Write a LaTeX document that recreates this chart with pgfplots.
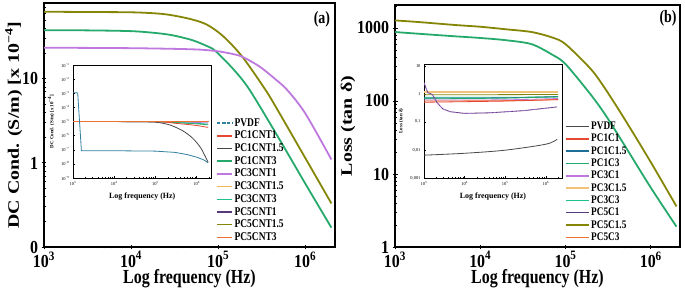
\documentclass[border=0pt]{standalone}
\usepackage{fontspec}
\setmainfont{Liberation Serif}
\usepackage{graphicx}
\usepackage{pgfplots}
\pgfplotsset{compat=1.18}

\newcommand\VS[1]{\scalebox{1}[1.25]{#1}}
\newcommand\VT[1]{\scalebox{1}[1.15]{#1}}
\newcommand\HS[1]{\scalebox{1.25}[1]{#1}}
\newcommand\MainTick{\fontsize{16}{18}\selectfont\bfseries}
\newcommand\InTick{\fontsize{4.5}{5}\selectfont}

\definecolor{colOlive}{RGB}{134,134,6}
\definecolor{colGreen}{RGB}{38,170,108}
\definecolor{colViolet}{RGB}{190,120,222}
\definecolor{colTeal}{RGB}{50,128,160}
\definecolor{colRed}{RGB}{232,72,50}
\definecolor{colGray}{RGB}{72,72,76}
\definecolor{colYel}{RGB}{240,182,84}
\definecolor{colTG}{RGB}{30,192,142}
\definecolor{colDP}{RGB}{88,58,122}
\definecolor{colOr}{RGB}{240,112,50}
\definecolor{colBlue}{RGB}{30,110,152}
\definecolor{colLOr}{RGB}{242,194,120}

\begin{document}
\begin{tikzpicture}
\useasboundingbox (0,0) rectangle (685bp,293bp);

% ================= Panel (a) main =================
\begin{loglogaxis}[at={(44bp,46bp)}, anchor=south west, scale only axis,
  width=291bp, height=244bp, xmin=1e3, xmax=2.2e6, ymin=0.1, ymax=80,
  axis line style={line width=1.3bp},
  tick style={line width=0.9bp, black},
  major tick length=5bp, minor tick length=3bp,
  xtick pos=bottom, ytick pos=left, tick align=center,
  tick label style={font=\MainTick},
  label style={font=\MainTick},
  xticklabel style={yshift=1.5bp},
  xlabel style={yshift=4.5bp},
  ylabel style={yshift=-7bp},
  xtick={1e3,1e4,1e5,1e6},
  xticklabels={\VT{10\textsuperscript{3}},\VT{10\textsuperscript{4}},\VT{10\textsuperscript{5}},\VT{10\textsuperscript{6}}},
  minor xtick={2e3,3e3,4e3,5e3,6e3,7e3,8e3,9e3,2e4,3e4,4e4,5e4,6e4,7e4,8e4,9e4,2e5,3e5,4e5,5e5,6e5,7e5,8e5,9e5,2e6},
  ytick={0.1,1,10}, yticklabels={\VT{0},\VT{1},\VT{10}},
  minor ytick={0.2,0.3,0.4,0.5,0.6,0.7,0.8,0.9,2,3,4,5,6,7,8,9,20,30,40,50,60,70,80},
  xlabel={\VS{Log frequency (Hz)}},
  ylabel={\HS{DC Cond. (S/m) [x 10\textsuperscript{−4}]}},
  legend cell align=left,
  legend image post style={xscale=0.9, line width=1.5bp},
  legend style={at={(0.581,0.535)}, anchor=north west, draw=none, fill=none,
    font=\fontsize{9.5}{10}\selectfont\bfseries, row sep=3.7bp, column sep=1.5bp,
    nodes={inner sep=0pt, text height=7.5bp, text depth=1.5bp}},
]
\addplot[colOlive, line width=1.8bp, smooth, forget plot] coordinates {
 (1e3,63) (3e3,62.5) (1e4,62) (2e4,60) (3e4,57) (5e4,51) (7.5e4,44) (1.15e5,32)
 (1.9e5,18.3) (3.5e5,7.4) (5e5,4.0) (1e6,1.15) (2e6,0.33)};
\addplot[colGreen, line width=1.8bp, smooth, forget plot] coordinates {
 (1e3,38) (3e3,37.8) (1e4,37) (2e4,35) (3e4,33) (5e4,29) (7.5e4,24.5) (9.3e4,21.5)
 (1.5e5,13) (2.3e5,7.4) (5e5,1.95) (1e6,0.57) (2e6,0.17)};
\addplot[colViolet, line width=1.8bp, smooth, forget plot] coordinates {
 (1e3,23.5) (1e4,23.2) (5e4,22.5) (9.3e4,21.5) (1.4e5,20) (1.9e5,18.3) (3e5,14)
 (4.5e5,10) (6.2e5,7.4) (1e6,3.9) (2e6,1.1)};
\addlegendimage{colTeal, densely dashed}\addlegendentry{\VS{PVDF}}
\addlegendimage{colRed}\addlegendentry{\VS{PC1CNT1}}
\addlegendimage{colGray}\addlegendentry{\VS{PC1CNT1.5}}
\addlegendimage{colGreen}\addlegendentry{\VS{PC1CNT3}}
\addlegendimage{colViolet}\addlegendentry{\VS{PC3CNT1}}
\addlegendimage{colYel}\addlegendentry{\VS{PC3CNT1.5}}
\addlegendimage{colTG}\addlegendentry{\VS{PC3CNT3}}
\addlegendimage{colDP}\addlegendentry{\VS{PC5CNT1}}
\addlegendimage{colOlive}\addlegendentry{\VS{PC5CNT1.5}}
\addlegendimage{colOr}\addlegendentry{\VS{PC5CNT3}}
\node[font=\fontsize{14}{16}\selectfont\bfseries] at (rel axis cs:0.955,0.935) {\VS{(a)}};
\end{loglogaxis}

% ================= Panel (a) inset =================
\begin{loglogaxis}[at={(73bp,115bp)}, anchor=south west, scale only axis,
  width=138.5bp, height=113bp, xmin=1e3, xmax=2.3e6, ymin=1e-9, ymax=1e-1,
  axis background/.style={fill=white},
  axis line style={line width=0.6bp},
  tick style={line width=0.4bp, black},
  major tick length=2bp, minor tick length=1.2bp,
  xtick pos=bottom, ytick pos=left, tick align=inside,
  tick label style={font=\InTick},
  xtick={1e3,1e4,1e5,1e6},
  xticklabels={10\textsuperscript{3},10\textsuperscript{4},10\textsuperscript{5},10\textsuperscript{6}},
  minor xtick={2e3,3e3,4e3,5e3,6e3,7e3,8e3,9e3,2e4,3e4,4e4,5e4,6e4,7e4,8e4,9e4,2e5,3e5,4e5,5e5,6e5,7e5,8e5,9e5,2e6},
  ytick={1e-9,1e-8,1e-7,1e-6,1e-5,1e-4,1e-3,1e-2,1e-1},
  yticklabels={10\textsuperscript{−9},10\textsuperscript{−8},10\textsuperscript{−7},10\textsuperscript{−6},10\textsuperscript{−5},10\textsuperscript{−4},10\textsuperscript{−3},10\textsuperscript{−2},10\textsuperscript{−1}},
  xlabel={Log frequency (Hz)},
  ylabel={DC Cond. (S/m) [x 10\textsuperscript{−4}]},
  xlabel style={font=\fontsize{8}{9}\selectfont\bfseries},
  ylabel style={font=\fontsize{5}{6}\selectfont\bfseries},
]
\addplot[colOlive, line width=0.8bp] coordinates {(1e3,1e-5) (2e6,1e-5)};
\addplot[colDP, line width=0.8bp] coordinates {(1e3,1e-5) (2e6,1e-5)};
\addplot[colViolet, line width=0.8bp, smooth] coordinates {(1e3,1e-5) (1e5,9.8e-6) (5e5,9e-6) (1.9e6,8e-6)};
\addplot[colTG, line width=0.8bp, smooth] coordinates {(1e3,1e-5) (1e5,9.6e-6) (3e5,8.6e-6) (1e6,7.4e-6) (1.9e6,6.5e-6)};
\addplot[colGreen, line width=0.8bp, smooth] coordinates {(1e3,1e-5) (1e5,9.6e-6) (3e5,8.3e-6) (1e6,6.8e-6) (1.9e6,5.8e-6)};
\addplot[colRed, line width=0.8bp, smooth] coordinates {(1e3,1e-5) (1e5,9.5e-6) (3e5,7.5e-6) (1e6,5.2e-6) (1.9e6,3.8e-6)};
\addplot[colGray, line width=0.8bp, smooth] coordinates {(1e3,1e-5) (1e4,1e-5) (5e4,9.5e-6) (1e5,9e-6) (2.2e5,5.8e-6) (4.6e5,2.2e-6) (8e5,6.6e-7) (1.27e6,1.3e-7) (1.9e6,1.3e-8)};
\addplot[colYel, line width=1bp] coordinates {(1e3,1.05e-5) (2e6,1.05e-5)};
\addplot[colOr, line width=1bp] coordinates {(1e3,1e-5) (2e6,1e-5)};
\addplot[colTeal, line width=0.8bp] coordinates {(1e3,1.1e-3) (1.3e3,1.05e-3) (1.6e3,8.5e-8) (1e4,8.5e-8) (1e5,8e-8) (3e5,6.5e-8) (6e5,4.5e-8) (1e6,3e-8) (1.5e6,1.9e-8) (1.9e6,1.2e-8)};
\end{loglogaxis}

% ================= Panel (b) main =================
\begin{loglogaxis}[at={(395bp,46bp)}, anchor=south west, scale only axis,
  width=285bp, height=242bp, xmin=1e3, xmax=2.2e6, ymin=1, ymax=2065,
  axis line style={line width=1.3bp},
  tick style={line width=0.9bp, black},
  major tick length=5bp, minor tick length=3bp,
  xtick pos=bottom, ytick pos=left, tick align=center,
  tick label style={font=\MainTick},
  label style={font=\MainTick},
  xticklabel style={yshift=1.5bp},
  xlabel style={yshift=4.5bp},
  ylabel style={yshift=-5bp},
  xtick={1e3,1e4,1e5,1e6},
  xticklabels={\VT{10\textsuperscript{3}},\VT{10\textsuperscript{4}},\VT{10\textsuperscript{5}},\VT{10\textsuperscript{6}}},
  minor xtick={2e3,3e3,4e3,5e3,6e3,7e3,8e3,9e3,2e4,3e4,4e4,5e4,6e4,7e4,8e4,9e4,2e5,3e5,4e5,5e5,6e5,7e5,8e5,9e5,2e6},
  ytick={1,10,100,1000}, yticklabels={\VT{1},\VT{10},\VT{100},\VT{1000}},
  minor ytick={2,3,4,5,6,7,8,9,20,30,40,50,60,70,80,90,200,300,400,500,600,700,800,900,2000},
  xlabel={\VS{Log frequency (Hz)}},
  ylabel={\HS{Loss (tan δ)}},
  legend cell align=left,
  legend image post style={xscale=1.35, line width=1.5bp},
  legend style={at={(0.586,0.525)}, anchor=north west, draw=none, fill=none,
    font=\fontsize{9.3}{10}\selectfont\bfseries, row sep=3.3bp, column sep=1.5bp,
    nodes={inner sep=0pt, text height=7.5bp, text depth=1.5bp}},
]
\addplot[colOlive, line width=1.8bp, smooth, forget plot] coordinates {
 (1e3,1270) (2e3,1200) (5e3,1100) (1e4,1040) (2e4,960) (4e4,880) (7e4,740) (1e5,600)
 (2e5,270) (3e5,140) (5e5,55) (1e6,14.5) (2e6,3.6)};
\addplot[colGreen, line width=1.8bp, smooth, forget plot] coordinates {
 (1e3,880) (2e3,830) (5e3,770) (1e4,730) (2e4,680) (4e4,600) (7e4,430) (1e5,320)
 (2e5,120) (3e5,62) (5e5,24) (1e6,6.5) (2e6,1.9)};
\addlegendimage{colGray}\addlegendentry{\VS{PVDF}}
\addlegendimage{colRed}\addlegendentry{\VS{PC1C1}}
\addlegendimage{colBlue}\addlegendentry{\VS{PC1C1.5}}
\addlegendimage{colGreen}\addlegendentry{\VS{PC1C3}}
\addlegendimage{colViolet}\addlegendentry{\VS{PC3C1}}
\addlegendimage{colLOr}\addlegendentry{\VS{PC3C1.5}}
\addlegendimage{colTG}\addlegendentry{\VS{PC3C3}}
\addlegendimage{colDP}\addlegendentry{\VS{PC5C1}}
\addlegendimage{colOlive}\addlegendentry{\VS{PC5C1.5}}
\addlegendimage{colOr}\addlegendentry{\VS{PC5C3}}
\node[font=\fontsize{14}{16}\selectfont\bfseries] at (rel axis cs:0.958,0.945) {\VS{(b)}};
\end{loglogaxis}

% ================= Panel (b) inset =================
\begin{loglogaxis}[at={(424bp,115bp)}, anchor=south west, scale only axis,
  width=138bp, height=114bp, xmin=1e3, xmax=2.5e6, ymin=1e-3, ymax=11.5,
  axis background/.style={fill=white},
  axis line style={line width=0.6bp},
  tick style={line width=0.4bp, black},
  major tick length=2bp, minor tick length=1.2bp,
  xtick pos=bottom, ytick pos=left, tick align=inside,
  tick label style={font=\InTick},
  xtick={1e3,1e4,1e5,1e6},
  xticklabels={10\textsuperscript{3},10\textsuperscript{4},10\textsuperscript{5},10\textsuperscript{6}},
  minor xtick={2e3,3e3,4e3,5e3,6e3,7e3,8e3,9e3,2e4,3e4,4e4,5e4,6e4,7e4,8e4,9e4,2e5,3e5,4e5,5e5,6e5,7e5,8e5,9e5,2e6},
  ytick={1e-3,1e-2,1e-1,1,10},
  yticklabels={0{,}001,0{,}01,0{,}1,1,10},
  xlabel={Log frequency (Hz)},
  ylabel={Loss (tan δ)},
  xlabel style={font=\fontsize{8}{9}\selectfont\bfseries},
  ylabel style={font=\fontsize{5}{6}\selectfont\bfseries},
]
\addplot[colLOr, line width=1.2bp] coordinates {(1e3,1.15) (2e6,1.15)};
\addplot[colOlive, line width=0.8bp] coordinates {(1e3,0.92) (2e6,0.94)};
\addplot[colTG, line width=0.8bp] coordinates {(1e3,0.75) (1e5,0.75) (2e6,0.77)};
\addplot[colBlue, line width=0.8bp, smooth] coordinates {(1e3,0.7) (1e5,0.72) (2e6,0.8)};
\addplot[colGreen, line width=0.8bp, smooth] coordinates {(1e3,0.66) (1e5,0.7) (2e6,0.78)};
\addplot[colViolet, line width=0.8bp, smooth] coordinates {(1e3,0.6) (1e5,0.61) (2e6,0.68)};
\addplot[colOr, line width=0.8bp, smooth] coordinates {(1e3,0.55) (1e5,0.57) (2e6,0.62)};
\addplot[colRed, line width=0.8bp, smooth] coordinates {(1e3,0.5) (1e5,0.55) (2e6,0.62)};
\addplot[colDP, line width=0.8bp] coordinates {(1e3,2.5) (1.12e3,1.6) (1.25e3,1.08) (1.6e3,0.95) (2.1e3,0.48) (2.9e3,0.29) (4.4e3,0.23) (1e4,0.2) (4.2e4,0.21) (2.8e5,0.25) (1.9e6,0.34)};
\addplot[colViolet, line width=0.5bp, densely dashed] coordinates {(1e3,2.5) (1.12e3,1.6) (1.25e3,1.08) (1.6e3,0.95) (2.1e3,0.48) (2.9e3,0.29) (4.4e3,0.23) (1e4,0.2) (4.2e4,0.21) (2.8e5,0.25) (1.9e6,0.34)};
\addplot[colGray, line width=0.8bp, smooth] coordinates {(1e3,0.0065) (1e4,0.0076) (1e5,0.0098) (1e6,0.016) (1.9e6,0.024)};
\end{loglogaxis}
\end{tikzpicture}
\end{document}
